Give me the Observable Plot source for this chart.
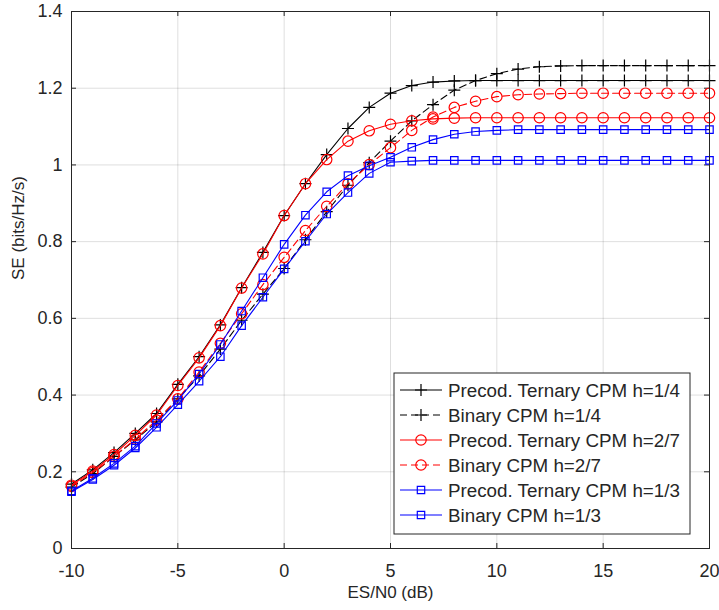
<!DOCTYPE html>
<html><head><meta charset="utf-8">
<script src="https://cdn.jsdelivr.net/npm/d3@7"></script>
<script src="https://cdn.jsdelivr.net/npm/@observablehq/plot@0.6"></script>
<style>body{margin:0;background:#fff}</style>
</head><body><div id="chart"></div>
<script>
// ---- data ----
const snrDb = [-10,-9,-8,-7,-6,-5,-4,-3,-2,-1,0,1,2,3,4,5,6,7,8,9,10,11,12,13,14,15,16,17,18,19,20];
const precTernaryH14 = [0.168,0.205,0.25,0.30,0.352,0.428,0.50,0.583,0.68,0.772,0.868,0.951,1.027,1.095,1.15,1.187,1.207,1.216,1.219,1.22,1.22,1.22,1.22,1.22,1.22,1.22,1.22,1.22,1.22,1.22,1.22];
const binaryH14 = [0.16,0.195,0.24,0.283,0.33,0.39,0.45,0.52,0.595,0.663,0.73,0.805,0.878,0.947,1.006,1.062,1.115,1.157,1.195,1.22,1.238,1.25,1.256,1.258,1.259,1.259,1.259,1.259,1.259,1.259,1.259];
const precTernaryH27 = [0.165,0.202,0.245,0.295,0.348,0.425,0.497,0.581,0.679,0.768,0.868,0.951,1.014,1.062,1.089,1.106,1.115,1.12,1.122,1.123,1.123,1.123,1.123,1.123,1.123,1.123,1.123,1.123,1.123,1.123,1.123];
const binaryH27 = [0.162,0.198,0.24,0.285,0.335,0.39,0.46,0.535,0.612,0.688,0.759,0.829,0.892,0.951,1.001,1.045,1.09,1.125,1.15,1.166,1.178,1.183,1.185,1.186,1.187,1.187,1.187,1.187,1.187,1.187,1.187];
const precTernaryH13 = [0.15,0.183,0.222,0.267,0.326,0.386,0.455,0.532,0.619,0.706,0.793,0.869,0.93,0.972,0.998,1.02,1.046,1.066,1.08,1.087,1.09,1.092,1.092,1.092,1.092,1.092,1.092,1.092,1.092,1.092,1.092];
const binaryH13 = [0.148,0.18,0.217,0.262,0.316,0.375,0.436,0.50,0.581,0.655,0.729,0.801,0.872,0.928,0.978,1.007,1.01,1.012,1.012,1.012,1.012,1.012,1.012,1.012,1.012,1.012,1.012,1.012,1.012,1.012,1.012];
const seriesNames = ["Precod. Ternary CPM h=1/4","Binary CPM h=1/4","Precod. Ternary CPM h=2/7","Binary CPM h=2/7","Precod. Ternary CPM h=1/3","Binary CPM h=1/3"];
const xTicks = [-10,-5,0,5,10,15,20];
const yTicks = [0,0.2,0.4,0.6,0.8,1,1.2,1.4];
const xLabel = "ES/N0 (dB)";
const yLabel = "SE (bits/Hz/s)";

// ---- layout / style ----
const W = 719, H = 610, ML = 71, MR = 10, MT = 11, MB = 62;
const PW = W - ML - MR, PH = H - MT - MB;
const FONT = "'Liberation Sans', Arial, Helvetica, sans-serif";
const INK = "#262626";
const plusSym = {draw(ctx, size){const r=Math.sqrt(size/Math.PI); ctx.moveTo(-r,0); ctx.lineTo(r,0); ctx.moveTo(0,-r); ctx.lineTo(0,r);}};
const squareSym = {draw(ctx, size){const r=Math.sqrt(size/Math.PI); ctx.rect(-r,-r,2*r,2*r);}};
const circleSym = {draw(ctx, size){const r=Math.sqrt(size/Math.PI); ctx.moveTo(r,0); ctx.arc(0,0,r,0,2*Math.PI);}};

const valuesList = [precTernaryH14, binaryH14, precTernaryH27, binaryH27, precTernaryH13, binaryH13];
const styles = [
  {color:"#000000", dash:null, symbol:plusSym, r:6},
  {color:"#000000", dash:"7,4", symbol:plusSym, r:6},
  {color:"#ff0000", dash:null, symbol:circleSym, r:5.2},
  {color:"#ff0000", dash:"7,4", symbol:circleSym, r:5.2},
  {color:"#0000ff", dash:null, symbol:squareSym, r:3.7},
  {color:"#0000ff", dash:null, symbol:squareSym, r:3.7}
];
const series = seriesNames.map((name, k) => ({
  name, ...styles[k],
  rows: snrDb.map((x, i) => ({x, y: valuesList[k][i]}))
}));

const marks = [
  Plot.gridX(xTicks, {stroke: "#000", strokeOpacity: 0.13}),
  Plot.gridY(yTicks, {stroke: "#000", strokeOpacity: 0.13}),
  // inward ticks on all four sides
  Plot.ruleX(xTicks, {x: d => d, insetTop: PH - 5, stroke: INK}),
  Plot.ruleX(xTicks, {x: d => d, insetBottom: PH - 5, stroke: INK}),
  Plot.ruleY(yTicks, {y: d => d, insetRight: PW - 5, stroke: INK}),
  Plot.ruleY(yTicks, {y: d => d, insetLeft: PW - 5, stroke: INK}),
  Plot.axisX(xTicks, {tickSize: 0, tickPadding: 16, tickFormat: d => String(d), fontSize: 18, fill: INK, label: null}),
  Plot.axisY(yTicks, {tickSize: 0, tickPadding: 9, tickFormat: d => String(d), fontSize: 18, fill: INK, label: null}),
  Plot.text([xLabel], {text: d => d, frameAnchor: "bottom", dy: 49.5, fontSize: 17, fill: INK}),
  Plot.text([yLabel], {text: d => d, frameAnchor: "left", dx: -52.5, rotate: -90, fontSize: 17, fill: INK})
];
for (const s of series) {
  marks.push(Plot.line(s.rows, {x: "x", y: "y", stroke: s.color, strokeWidth: 1.1, strokeDasharray: s.dash}));
  marks.push(Plot.dot(s.rows, {x: "x", y: "y", symbol: s.symbol, r: s.r, stroke: s.color, fill: "none", strokeWidth: 1.2}));
}
marks.push(Plot.frame({stroke: INK, strokeWidth: 1}));

const chart = Plot.plot({
  width: W, height: H,
  marginLeft: ML, marginRight: MR, marginTop: MT, marginBottom: MB,
  style: {fontFamily: FONT, background: "#fff"},
  x: {domain: [-10, 20]},
  y: {domain: [0, 1.4]},
  marks
});
document.getElementById("chart").appendChild(chart);

// ---- legend (inside plot, lower right) ----
const svg = d3.select(chart);
const lg = svg.append("g").attr("font-family", FONT).attr("font-size", 18.8).attr("text-anchor", "start");
const bx = 394, by = 373, bw = 296, bh = 161;
lg.append("rect").attr("x", bx).attr("y", by).attr("width", bw).attr("height", bh)
  .attr("fill", "#fff").attr("stroke", INK).attr("stroke-width", 1);
series.forEach((s, i) => {
  const cy = 390 + i * 25;
  lg.append("line").attr("x1", 400).attr("x2", 442).attr("y1", cy).attr("y2", cy)
    .attr("stroke", s.color).attr("stroke-width", 1.1).attr("stroke-dasharray", s.dash);
  lg.append("path").attr("transform", `translate(421,${cy})`)
    .attr("d", d3.symbol(s.symbol, Math.PI * s.r * s.r)())
    .attr("fill", "none").attr("stroke", s.color).attr("stroke-width", 1.2);
  lg.append("text").attr("x", 448).attr("y", cy).attr("dy", "0.35em")
    .attr("text-anchor", "start").attr("fill", INK).text(s.name);
});
</script>
</body></html>
